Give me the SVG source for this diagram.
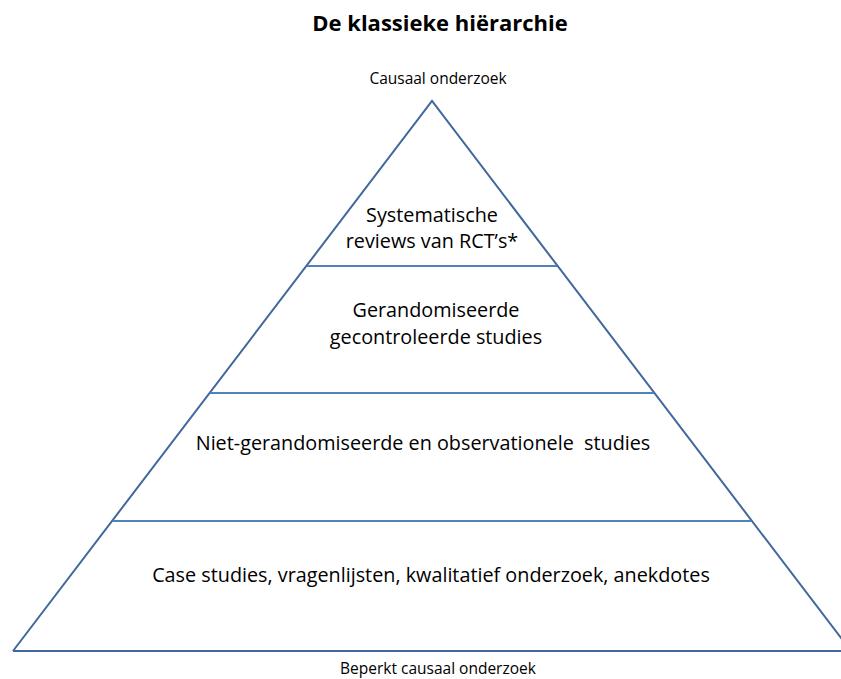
<svg xmlns="http://www.w3.org/2000/svg" width="841" height="679" viewBox="0 0 841 679">
<style>
.t{font-family:"Open Sans","Liberation Sans",sans-serif;fill:#000;text-anchor:middle;white-space:pre}
.m{font-size:19.8px}
.s{font-size:15.5px}
.edge{stroke:#41689c;stroke-width:2;fill:none}
.div{stroke:#4f81bd;stroke-width:2;fill:none}
</style>
<rect width="841" height="679" fill="#fff"/>
<text class="t" x="440" y="31" font-size="22" font-weight="bold">De klassieke hiërarchie</text>
<g id="connectors">
<polyline class="edge" points="13,651 432,101 851,651"/>
<line class="edge" x1="13" y1="651" x2="841" y2="651"/>
<line class="div" x1="307" y1="266" x2="557" y2="266"/>
<line class="div" x1="210" y1="393" x2="654" y2="393"/>
<line class="div" x1="113" y1="521" x2="751" y2="521"/>
</g>
<g id="top-label"><text class="t s" x="438" y="84">Causaal onderzoek</text></g>
<g id="bottom-label"><text class="t s" x="438" y="674">Beperkt causaal onderzoek</text></g>
<g id="level1">
<text class="t m" x="432" y="222">Systematische</text>
<text class="t m" x="432" y="248">reviews van RCT’s*</text>
</g>
<g id="level2">
<text class="t m" x="436" y="317">Gerandomiseerde</text>
<text class="t m" x="436" y="344">gecontroleerde studies</text>
</g>
<g id="level3">
<text class="t m" x="423" y="450" xml:space="preserve">Niet-gerandomiseerde en observationele  studies</text>
</g>
<g id="level4">
<text class="t m" x="431" y="582">Case studies, vragenlijsten, kwalitatief onderzoek, anekdotes</text>
</g>
</svg>
